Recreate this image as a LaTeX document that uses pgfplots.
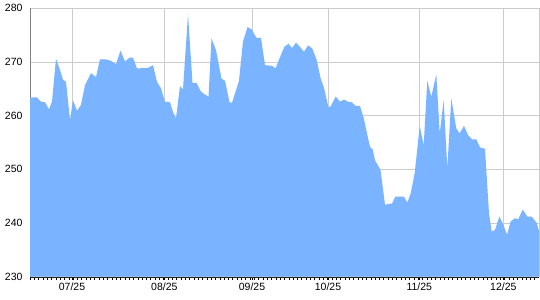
\documentclass[border=0pt]{standalone}
\usepackage{pgfplots}
\pgfplotsset{compat=1.18}
\usepackage{fontspec}
\setmainfont{Liberation Sans}
\definecolor{areafill}{RGB}{122,179,255}
\definecolor{gridc}{RGB}{204,204,204}
\pgfplotsset{layers/mylayers/.define layer set={axis background,axis grid,main,axis ticks,axis lines,axis tick labels,axis descriptions,axis foreground}{}}
\begin{document}
\begin{tikzpicture}
\begin{axis}[
  set layers=mylayers,
  scale only axis,
  width=509bp, height=268.4bp,
  xmin=0, xmax=509, ymin=230, ymax=280,
  axis x line*=bottom, axis y line*=left,
  x axis line style={draw=black!85},
  y axis line style={draw=black!50},
  ytick={230,240,250,260,270,280},
  xtick={42,134.3,222,298,389.3,473.3},
  xticklabels={07/25,08/25,09/25,10/25,11/25,12/25},
  extra x ticks={509},
  extra x tick labels={},
  extra x tick style={major tick length=0pt},
  minor xtick={0,4.314,...,509},
  grid=major,
  major grid style={draw=gridc, line width=0.8bp},
  tick align=outside,
  major tick length=3bp, minor tick length=3bp,
  xtick style={draw=black, line width=0.6bp},
  ytick style={draw=none},
  tick label style={font=\fontsize{10.5bp}{12bp}\selectfont, text=black},
  yticklabel style={xshift=-1bp},
  xticklabel style={yshift=0bp},
  /pgf/number format/assume math mode=true,
]
\addplot[fill=areafill, draw=none] table {
x y
0 263.3
3 263.4
7 263.4
11 262.6
15 262.5
19 261.2
22 262.6
26 270.6
30 268.5
33 266.7
36 266.3
40 259.2
43 262.9
47 260.9
51 262.0
55 265.7
61 267.9
66 267.2
70 270.5
76 270.5
81 270.2
86 269.6
90.5 272.1
95 270.1
99.5 270.8
103 270.8
107 268.8
118 268.9
123 269.4
127 266.3
131 265.1
135 262.6
140 262.5
143 260.7
146 259.5
150 265.5
153 264.9
158 278.9
162.5 266.1
166.5 266.1
170.5 264.6
173.5 264.1
176.5 263.8
178.5 263.5
181.5 274.4
186 272.2
191.5 266.9
195 266.5
199.5 262.5
202 262.4
209 266.5
213 273.8
217.5 276.5
221.5 276.1
226.5 274.5
231 274.5
235 269.4
242 269.3
245.5 268.8
250 270.9
254.3 272.8
258.5 273.4
262 272.6
266 273.6
270 272.8
274 271.9
278 273.1
282.3 272.5
286.5 270.5
290.7 266.9
294 265.2
298.5 261.5
301 261.8
305.7 263.6
310 262.6
314 263.0
318 262.6
322 262.5
325.5 261.8
330 261.8
333.5 259.7
337 256.7
340 254.2
342.7 253.7
345 251.7
350.5 249.9
355 243.4
360 243.6
362 243.6
365.3 244.9
374 244.9
377.3 243.8
380.7 245.5
384.7 249.3
389.7 258.1
393.7 254.5
397.3 266.5
401.3 263.5
406.3 267.7
409.7 256.7
413.7 262.9
417.3 250.2
421.3 263.2
426.3 257.6
429.7 256.7
434 258.1
438 256.4
442 255.6
446.3 255.6
450 254.1
455 253.8
459 241.8
461.7 238.4
465 238.7
469.3 241.2
473.3 239.7
477 237.8
480.7 240.3
485 240.9
488.3 240.7
492.7 242.5
497.3 241.2
501.7 241.2
506.7 240.0
509 238.5
} \closedcycle;
\end{axis}
\pgfresetboundingbox
\path (-30bp,-23.3bp) rectangle (510bp,276.7bp);
\end{tikzpicture}
\end{document}
